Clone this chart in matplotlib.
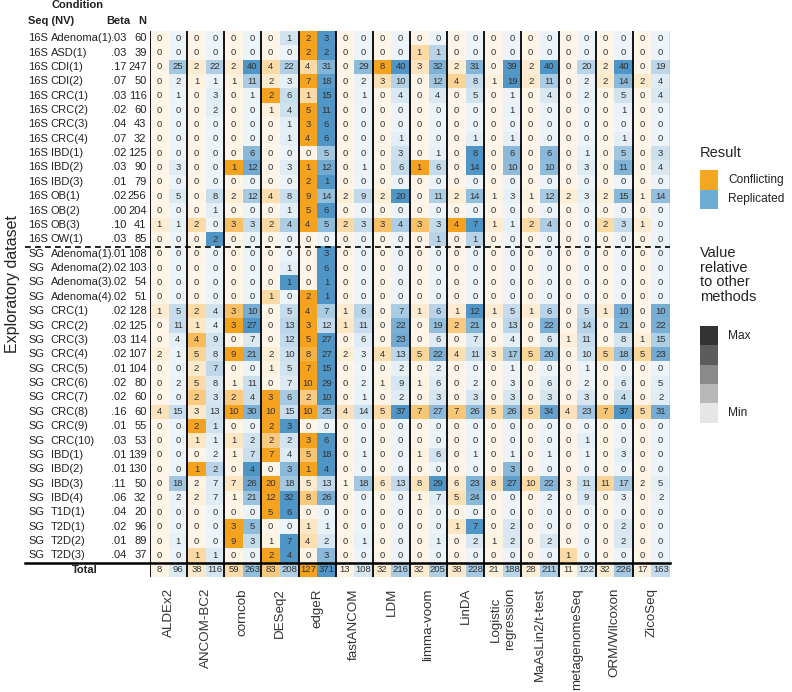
import numpy as np
import matplotlib
matplotlib.use("Agg")
import matplotlib.pyplot as plt
import matplotlib.transforms as mtransforms
from matplotlib.patches import Rectangle

plt.rcParams['font.family'] = ['Liberation Sans', 'DejaVu Sans']

# ---------------- data ----------------
methods = ["ALDEx2", "ANCOM-BC2", "corncob", "DESeq2", "edgeR", "fastANCOM", "LDM",
           "limma-voom", "LinDA", "Logistic\nregression", "MaAsLin2/t-test",
           "metagenomeSeq", "ORM/Wilcoxon", "ZicoSeq"]

seq = ["16S"] * 15 + ["SG"] * 22
condition = ["Adenoma(1)", "ASD(1)", "CDI(1)", "CDI(2)", "CRC(1)", "CRC(2)", "CRC(3)", "CRC(4)",
             "IBD(1)", "IBD(2)", "IBD(3)", "OB(1)", "OB(2)", "OB(3)", "OW(1)",
             "Adenoma(1)", "Adenoma(2)", "Adenoma(3)", "Adenoma(4)",
             "CRC(1)", "CRC(2)", "CRC(3)", "CRC(4)", "CRC(5)", "CRC(6)", "CRC(7)", "CRC(8)",
             "CRC(9)", "CRC(10)", "IBD(1)", "IBD(2)", "IBD(3)", "IBD(4)", "T1D(1)",
             "T2D(1)", "T2D(2)", "T2D(3)"]
beta = [".03", ".03", ".17", ".07", ".03", ".02", ".04", ".07", ".02", ".03", ".01", ".02", ".00", ".10", ".03",
        ".01", ".02", ".02", ".02", ".02", ".02", ".03", ".02", ".01", ".02", ".02", ".16", ".01", ".03",
        ".01", ".01", ".11", ".06", ".04", ".02", ".01", ".04"]
n_samples = [60, 39, 247, 50, 116, 60, 43, 32, 125, 90, 79, 256, 204, 41, 85,
             108, 103, 54, 51, 128, 125, 114, 107, 104, 80, 60, 60, 55, 53,
             139, 130, 50, 32, 20, 96, 89, 37]

conflicting = [
    [0, 0, 0, 0, 2, 0, 0, 0, 0, 0, 0, 0, 0, 0],
    [0, 0, 0, 0, 2, 0, 0, 1, 0, 0, 0, 0, 0, 0],
    [0, 2, 2, 4, 4, 0, 8, 3, 2, 0, 2, 0, 2, 0],
    [0, 1, 1, 2, 7, 0, 3, 0, 4, 1, 2, 0, 2, 2],
    [0, 0, 0, 2, 1, 0, 0, 0, 0, 0, 0, 0, 0, 0],
    [0, 0, 0, 1, 5, 0, 0, 0, 0, 0, 0, 0, 0, 0],
    [0, 0, 0, 0, 3, 0, 0, 0, 0, 0, 0, 0, 0, 0],
    [0, 0, 0, 0, 4, 0, 0, 0, 0, 0, 0, 0, 0, 0],
    [0, 0, 0, 0, 0, 0, 0, 0, 0, 0, 0, 0, 0, 0],
    [0, 0, 1, 0, 1, 0, 0, 1, 0, 0, 0, 0, 0, 0],
    [0, 0, 0, 0, 2, 0, 0, 0, 0, 0, 0, 0, 0, 0],
    [0, 0, 2, 4, 9, 2, 2, 0, 2, 1, 1, 2, 2, 1],
    [0, 0, 0, 0, 5, 0, 0, 0, 0, 0, 0, 0, 0, 0],
    [1, 2, 3, 2, 4, 2, 3, 3, 4, 1, 2, 0, 2, 1],
    [0, 0, 0, 0, 0, 0, 0, 0, 0, 0, 0, 0, 0, 0],
    [0, 0, 0, 0, 0, 0, 0, 0, 0, 0, 0, 0, 0, 0],
    [0, 0, 0, 0, 0, 0, 0, 0, 0, 0, 0, 0, 0, 0],
    [0, 0, 0, 0, 0, 0, 0, 0, 0, 0, 0, 0, 0, 0],
    [0, 0, 0, 1, 2, 0, 0, 0, 0, 0, 0, 0, 0, 0],
    [1, 2, 3, 0, 4, 1, 0, 1, 1, 1, 1, 0, 1, 0],
    [0, 1, 3, 0, 3, 1, 0, 0, 2, 0, 0, 0, 0, 0],
    [0, 4, 0, 0, 5, 0, 0, 0, 0, 0, 0, 1, 0, 1],
    [2, 5, 9, 2, 8, 2, 4, 5, 4, 3, 5, 0, 5, 5],
    [0, 2, 0, 1, 7, 0, 0, 0, 0, 0, 0, 0, 0, 0],
    [0, 5, 1, 0, 10, 0, 1, 1, 0, 0, 0, 0, 0, 0],
    [0, 2, 2, 3, 2, 0, 0, 0, 0, 0, 0, 0, 0, 0],
    [4, 3, 10, 10, 10, 4, 5, 7, 7, 5, 5, 4, 7, 5],
    [0, 2, 0, 2, 0, 0, 0, 0, 0, 0, 0, 0, 0, 0],
    [0, 1, 1, 2, 3, 0, 0, 0, 0, 0, 0, 0, 0, 0],
    [0, 0, 1, 7, 5, 0, 0, 1, 0, 0, 0, 0, 0, 0],
    [0, 1, 0, 0, 1, 0, 0, 0, 0, 0, 0, 0, 0, 0],
    [0, 2, 7, 20, 5, 1, 6, 8, 6, 8, 10, 3, 11, 2],
    [0, 2, 1, 12, 8, 0, 0, 1, 5, 0, 0, 0, 0, 0],
    [0, 0, 0, 5, 0, 0, 0, 0, 0, 0, 0, 0, 0, 0],
    [0, 0, 3, 0, 1, 0, 0, 0, 1, 0, 0, 0, 0, 0],
    [0, 0, 9, 1, 4, 0, 0, 0, 0, 1, 0, 0, 0, 0],
    [0, 1, 0, 2, 0, 0, 0, 0, 0, 0, 0, 1, 0, 0],
]
replicated = [
    [0, 0, 0, 1, 3, 0, 0, 0, 0, 0, 0, 0, 0, 0],
    [0, 0, 0, 0, 2, 0, 0, 1, 0, 0, 0, 0, 0, 0],
    [25, 22, 40, 22, 31, 29, 40, 32, 31, 39, 40, 20, 40, 19],
    [2, 1, 11, 3, 18, 2, 10, 12, 8, 19, 11, 2, 14, 4],
    [1, 3, 1, 6, 15, 1, 4, 4, 5, 1, 4, 2, 5, 4],
    [0, 2, 0, 4, 11, 0, 0, 0, 0, 1, 0, 0, 1, 0],
    [0, 0, 0, 1, 6, 0, 0, 0, 0, 0, 0, 0, 0, 0],
    [0, 0, 0, 1, 6, 0, 1, 0, 1, 1, 0, 0, 1, 0],
    [0, 0, 6, 0, 5, 0, 3, 1, 8, 6, 6, 1, 5, 3],
    [3, 0, 12, 3, 12, 1, 6, 6, 14, 10, 10, 3, 11, 4],
    [0, 0, 0, 0, 1, 0, 0, 0, 0, 0, 0, 0, 0, 0],
    [5, 8, 12, 8, 14, 9, 20, 11, 14, 3, 12, 3, 15, 14],
    [0, 1, 0, 1, 6, 0, 0, 0, 0, 0, 0, 0, 0, 0],
    [1, 0, 3, 4, 5, 3, 4, 3, 7, 1, 4, 0, 3, 0],
    [0, 2, 0, 0, 0, 0, 0, 1, 1, 0, 0, 0, 0, 0],
    [0, 0, 0, 0, 3, 0, 0, 0, 0, 0, 0, 0, 0, 0],
    [0, 0, 0, 1, 6, 0, 0, 0, 0, 0, 0, 0, 0, 0],
    [0, 0, 0, 1, 1, 0, 0, 0, 0, 0, 0, 0, 0, 0],
    [0, 0, 0, 0, 1, 0, 0, 0, 0, 0, 0, 0, 0, 0],
    [5, 4, 10, 5, 7, 6, 7, 6, 12, 5, 6, 5, 10, 10],
    [11, 4, 27, 13, 12, 11, 22, 19, 21, 13, 22, 14, 21, 22],
    [4, 9, 7, 12, 27, 6, 23, 6, 7, 4, 6, 11, 8, 15],
    [1, 8, 21, 10, 27, 3, 13, 22, 11, 17, 20, 10, 18, 23],
    [0, 7, 0, 5, 15, 0, 2, 2, 0, 1, 0, 1, 0, 0],
    [2, 8, 11, 7, 29, 2, 9, 6, 2, 3, 6, 2, 6, 5],
    [0, 3, 4, 6, 10, 1, 2, 3, 3, 3, 3, 3, 4, 2],
    [15, 13, 30, 15, 25, 14, 37, 27, 26, 26, 34, 23, 37, 31],
    [0, 1, 0, 3, 0, 0, 0, 0, 0, 0, 0, 0, 0, 0],
    [0, 1, 2, 2, 6, 0, 0, 0, 0, 0, 0, 1, 0, 0],
    [0, 2, 7, 4, 18, 1, 0, 6, 1, 1, 1, 1, 3, 0],
    [0, 2, 4, 3, 4, 0, 0, 0, 0, 3, 0, 0, 0, 0],
    [18, 7, 26, 18, 13, 18, 13, 29, 23, 27, 22, 11, 17, 5],
    [2, 7, 21, 32, 26, 0, 0, 7, 24, 0, 2, 9, 3, 2],
    [0, 0, 0, 6, 0, 0, 0, 0, 0, 0, 0, 0, 0, 0],
    [0, 0, 5, 0, 1, 0, 0, 0, 7, 2, 0, 0, 2, 0],
    [1, 0, 3, 7, 2, 1, 0, 1, 2, 2, 2, 0, 2, 0],
    [0, 1, 0, 4, 3, 0, 0, 0, 0, 0, 0, 0, 0, 0],
]
total_conflicting = [8, 38, 59, 83, 127, 13, 32, 32, 38, 21, 28, 11, 32, 17]
total_replicated = [96, 116, 263, 208, 371, 108, 216, 205, 228, 188, 211, 122, 226, 163]

# ---------------- styling ----------------
W, H = 792, 692
L, R, T, B = 150, 670, 31, 577
orange = np.array([245, 163, 31]) / 255.0
blue = np.array([79, 149, 198]) / 255.0
legend_orange = "#F5A623"
legend_blue = "#6AAED6"
grays = ["#333333", "#5c5c5c", "#8a8a8a", "#b8b8b8", "#e6e6e6"]
txt_col = "#333333"

C = np.array(conflicting + [total_conflicting], dtype=float)
Rp = np.array(replicated + [total_replicated], dtype=float)
nrow = C.shape[0]
nm = len(methods)


def shade(vals, base):
    mx = vals.max(axis=1, keepdims=True)
    t = np.where(mx > 0, vals / np.where(mx > 0, mx, 1), 0.0)
    a = 0.1 + 0.9 * t ** 1.6
    return 1 - a[..., None] * (1 - base[None, None, :])


rgb = np.zeros((nrow, 2 * nm, 3))
rgb[:, 0::2, :] = shade(C, orange)
rgb[:, 1::2, :] = shade(Rp, blue)

fig = plt.figure(figsize=(W / 100, H / 100), dpi=100)
ax = fig.add_axes([L / W, 1 - B / H, (R - L) / W, (B - T) / H])
ax.imshow(rgb, aspect="auto", extent=(0, 2 * nm, nrow, 0), interpolation="nearest")
ax.set_xlim(0, 2 * nm)
ax.set_ylim(nrow, 0)
for s in ax.spines.values():
    s.set_visible(False)

for i in range(nrow):
    for k in range(nm):
        ax.text(2 * k + 0.5, i + 0.5, f"{int(C[i, k])}", ha="center", va="center",
                fontsize=6.8, color=txt_col)
        ax.text(2 * k + 1.5, i + 0.5, f"{int(Rp[i, k])}", ha="center", va="center",
                fontsize=6.8, color=txt_col)

# method separators
for k in range(nm):
    ax.axvline(2 * k, color="black", lw=1.3, zorder=3)
ax.axvline(2 * nm, color="#999999", lw=1.0, zorder=3)

# row labels
rowh = (B - T) / nrow
bt = mtransforms.blended_transform_factory(ax.transAxes, ax.transData)


def axx(px):
    return (px - L) / (R - L)


lab_fs = 8.0
for i in range(len(condition)):
    y = i + 0.5
    ax.text(axx(28), y, seq[i], transform=bt, ha="left", va="center", fontsize=lab_fs, color="#222222")
    ax.text(axx(50.5), y, condition[i], transform=bt, ha="left", va="center", fontsize=lab_fs, color="#222222")
    ax.text(axx(111), y, beta[i], transform=bt, ha="left", va="center", fontsize=lab_fs, color="#222222")
    ax.text(axx(146.5), y, str(n_samples[i]), transform=bt, ha="right", va="center", fontsize=lab_fs, color="#222222")
ax.text(axx(85), nrow - 0.5, "Total", transform=bt, ha="center", va="center",
        fontsize=lab_fs, fontweight="bold", color="#222222")

# headers
hy1 = (5.5 - T) / rowh
hy2 = (20.5 - T) / rowh
ax.text(axx(52), hy1, "Condition", transform=bt, ha="left", va="center", fontsize=lab_fs,
        fontweight="bold", color="#222222", clip_on=False)
ax.text(axx(28), hy2, "Seq (NV)", transform=bt, ha="left", va="center", fontsize=lab_fs,
        fontweight="bold", color="#222222", clip_on=False)
ax.text(axx(106), hy2, "Beta", transform=bt, ha="left", va="center", fontsize=lab_fs,
        fontweight="bold", color="#222222", clip_on=False)
ax.text(axx(146.5), hy2, "N", transform=bt, ha="right", va="center", fontsize=lab_fs,
        fontweight="bold", color="#222222", clip_on=False)

# dashed line between 16S and SG, solid line above Total
n16 = seq.count("16S")
ax.plot([axx(25), 1], [n16, n16], transform=bt, color="black", lw=1.2, ls=(0, (3.5, 2.5)),
        clip_on=False, zorder=4)
ax.plot([axx(25), 1], [nrow - 1, nrow - 1], transform=bt, color="black", lw=1.8,
        clip_on=False, zorder=4)

# x tick labels
ax.set_xticks([2 * k + 1 for k in range(nm)])
ax.set_xticklabels(methods, rotation=90, fontsize=9.6, color="#333333", va="top", ha="center",
                   multialignment="center")
ax.tick_params(axis="x", length=0, pad=8)
ax.set_yticks([])

fig.text(13 / W, 1 - 284 / H, "Exploratory dataset", rotation=90, ha="center", va="center",
         fontsize=11.5, color="#222222")

# legend (pixel-coordinate overlay)
lax = fig.add_axes([0, 0, 1, 1], zorder=5)
lax.set_xlim(0, W)
lax.set_ylim(H, 0)
lax.axis("off")
lax.patch.set_alpha(0)
lax.text(700, 153, "Result", ha="left", va="center", fontsize=10.5, color="#222222")
for j, (lab, colr) in enumerate([("Conflicting", legend_orange), ("Replicated", legend_blue)]):
    y0 = 170 + j * 19.5
    lax.add_patch(Rectangle((700, y0), 18, 19.5, facecolor=colr, edgecolor="none"))
    lax.text(728, y0 + 9.75, lab, ha="left", va="center", fontsize=8.6, color="#222222")
lax.text(700, 246, "Value\nrelative\nto other\nmethods", ha="left", va="top", fontsize=10.5,
         color="#222222", linespacing=1.05)
for j, g in enumerate(grays):
    y0 = 326 + j * 19.3
    lax.add_patch(Rectangle((700, y0), 18, 19.3, facecolor=g, edgecolor="none"))
lax.text(728, 336, "Max", ha="left", va="center", fontsize=8.6, color="#222222")
lax.text(728, 413, "Min", ha="left", va="center", fontsize=8.6, color="#222222")

fig.savefig("out.png", dpi=100)
